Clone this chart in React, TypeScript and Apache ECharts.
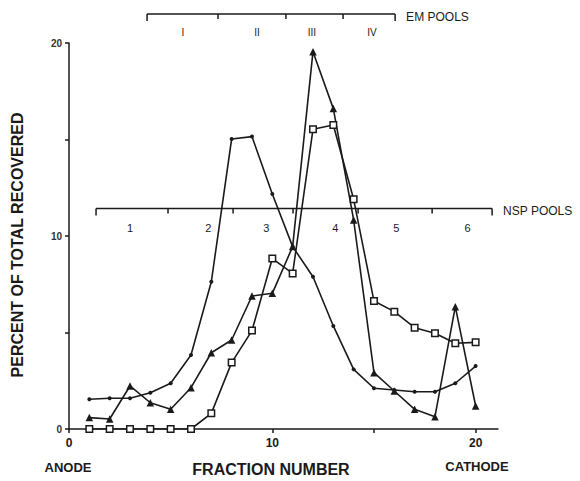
import React, { useEffect, useRef } from "react";
import * as echarts from "echarts";

const fractions = [1, 2, 3, 4, 5, 6, 7, 8, 9, 10, 11, 12, 13, 14, 15, 16, 17, 18, 19, 20];
const dotValues = [1.54, 1.59, 1.59, 1.88, 2.37, 3.83, 7.63, 15.03, 15.15, 12.18, 9.45, 7.89, 5.34, 3.09, 2.11, 2.02, 1.93, 1.93, 2.37, 3.26];
const triangleValues = [0.59, 0.52, 2.23, 1.36, 1.02, 2.14, 3.95, 4.61, 6.89, 7.03, 9.45, 19.55, 16.6, 10.83, 2.92, 1.97, 1.02, 0.64, 6.34, 1.19];
const squareValues = [0, 0, 0, 0, 0, 0, 0.81, 3.44, 5.1, 8.83, 8.06, 15.53, 15.75, 11.9, 6.63, 6.08, 5.25, 4.96, 4.44, 4.49];

const xTickLabels = [0, 10, 20];
const yTickLabels = [0, 10, 20];

const emPoolBounds = [3.84, 7.33, 10.67, 13.48, 16.04];
const emPoolLevel = 21.5;
const emPoolLabels = ["I", "II", "III", "IV"];
const emPoolLabelPos = [5.6, 9.25, 11.95, 14.9];
const emPoolLabelLevel = 20.55;

const nspPoolBounds = [1.33, 4.87, 8.07, 11.02, 14.22, 17.86, 20.81];
const nspPoolLevel = 11.43;
const nspPoolLabels = ["1", "2", "3", "4", "5", "6"];
const nspPoolLabelPos = [3.0, 6.85, 9.7, 13.1, 16.1, 19.6];
const nspPoolLabelLevel = 10.42;

const FONT = '"Liberation Sans", Arial, Helvetica, sans-serif';
const INK = "#1a1a1a";

function bracketRenderer(
  bounds: number[],
  level: number,
  labels: string[],
  labelPos: number[],
  labelLevel: number,
  title: string,
  labelSize: number
) {
  return (params: any, api: any) => {
    const children: any[] = [];
    const a = api.coord([bounds[0], level]);
    const b = api.coord([bounds[bounds.length - 1], level]);
    children.push({
      type: "line",
      shape: { x1: a[0], y1: a[1], x2: b[0], y2: b[1] },
      style: { stroke: INK, lineWidth: 1.5 },
    });
    bounds.forEach((v, i) => {
      const p = api.coord([v, level]);
      const len = i === 0 || i === bounds.length - 1 ? 7 : 5;
      children.push({
        type: "line",
        shape: { x1: p[0], y1: p[1], x2: p[0], y2: p[1] + len },
        style: { stroke: INK, lineWidth: 1.5 },
      });
    });
    labels.forEach((t, i) => {
      const p = api.coord([labelPos[i], labelLevel]);
      children.push({
        type: "text",
        x: p[0],
        y: p[1],
        style: {
          text: t,
          align: "center",
          verticalAlign: "middle",
          fontSize: labelSize,
          fontFamily: FONT,
          fill: INK,
          textFill: INK,
        },
      });
    });
    children.push({
      type: "text",
      x: b[0] + 11,
      y: b[1] + 3,
      style: {
        text: title,
        align: "left",
        verticalAlign: "middle",
        fontSize: 12,
        fontFamily: FONT,
        fill: INK,
        textFill: INK,
      },
    });
    return { type: "group", children };
  };
}

export default function App() {
  const ref = useRef<HTMLDivElement>(null);

  useEffect(() => {
    if (!ref.current) return;
    const chart = echarts.init(ref.current, null, { renderer: "svg" });
    const lineStyle = { color: INK, width: 1.6 };
    chart.setOption({
      animation: false,
      backgroundColor: "#ffffff",
      color: [INK, INK, INK, INK, INK],
      grid: { left: 69, top: 43, right: 82, bottom: 52, containLabel: false },
      xAxis: {
        type: "value",
        min: 0,
        max: 21.1,
        interval: 5,
        axisLine: { show: true, onZero: false, lineStyle: { color: INK, width: 1.5 } },
        axisTick: { show: true, inside: false, length: 4, lineStyle: { color: INK, width: 1.5 } },
        axisLabel: {
          showMaxLabel: false,
          formatter: (v: number) => (xTickLabels.includes(v) ? String(v) : ""),
          color: INK,
          fontSize: 12,
          fontWeight: "bold",
          fontFamily: FONT,
          margin: 8,
        },
        splitLine: { show: false },
      },
      yAxis: {
        type: "value",
        min: 0,
        max: 20,
        interval: 5,
        axisLine: { show: true, onZero: false, lineStyle: { color: INK, width: 1.5 } },
        axisTick: { show: true, inside: false, length: 4, lineStyle: { color: INK, width: 1.5 } },
        axisLabel: {
          formatter: (v: number) => (yTickLabels.includes(v) ? String(v) : ""),
          color: "#333",
          fontSize: 10,
          fontWeight: "bold",
          fontFamily: FONT,
          margin: 7,
        },
        splitLine: { show: false },
      },
      series: [
        {
          type: "line",
          data: fractions.map((f, i) => [f, dotValues[i]]),
          symbol: "circle",
          symbolSize: 4,
          showAllSymbol: true,
          lineStyle,
          itemStyle: { color: INK },
          z: 2,
        },
        {
          type: "line",
          data: fractions.map((f, i) => [f, triangleValues[i]]),
          symbol: "triangle",
          symbolSize: 7.5,
          showAllSymbol: true,
          lineStyle,
          itemStyle: { color: INK },
          z: 3,
        },
        {
          type: "line",
          data: fractions.map((f, i) => [f, squareValues[i]]),
          symbol: "rect",
          symbolSize: 6.5,
          showAllSymbol: true,
          lineStyle,
          itemStyle: { color: "#ffffff", borderColor: INK, borderWidth: 1.5 },
          z: 4,
        },
        {
          type: "custom",
          clip: false,
          silent: true,
          itemStyle: { color: INK },
          data: [[0, 0]],
          renderItem: bracketRenderer(
            emPoolBounds, emPoolLevel, emPoolLabels, emPoolLabelPos, emPoolLabelLevel, "EM POOLS", 10
          ),
          z: 5,
        },
        {
          type: "custom",
          clip: false,
          silent: true,
          itemStyle: { color: INK },
          data: [[0, 0]],
          renderItem: bracketRenderer(
            nspPoolBounds, nspPoolLevel, nspPoolLabels, nspPoolLabelPos, nspPoolLabelLevel, "NSP POOLS", 11
          ),
          z: 5,
        },
      ],
      graphic: [
        {
          type: "text",
          x: 17,
          y: 245,
          rotation: Math.PI / 2,
          style: {
            text: "PERCENT OF TOTAL RECOVERED",
            align: "center",
            verticalAlign: "middle",
            textAlign: "center",
            textVerticalAlign: "middle",
            font: `bold 16px ${FONT}`,
            fill: INK,
          },
        },
        {
          type: "text",
          x: 271,
          y: 469,
          style: {
            text: "FRACTION NUMBER",
            align: "center",
            verticalAlign: "middle",
            textAlign: "center",
            textVerticalAlign: "middle",
            font: `bold 16px ${FONT}`,
            fill: INK,
          },
        },
        {
          type: "text",
          x: 68,
          y: 467,
          style: {
            text: "ANODE",
            align: "center",
            verticalAlign: "middle",
            textAlign: "center",
            textVerticalAlign: "middle",
            font: `bold 13px ${FONT}`,
            fill: INK,
          },
        },
        {
          type: "text",
          x: 477,
          y: 466,
          style: {
            text: "CATHODE",
            align: "center",
            verticalAlign: "middle",
            textAlign: "center",
            textVerticalAlign: "middle",
            font: `bold 13px ${FONT}`,
            fill: INK,
          },
        },
      ],
    });
    return () => chart.dispose();
  }, []);

  return (
    <div
      ref={ref}
      style={{ position: "fixed", left: 0, top: 0, width: 580, height: 481, background: "#fff" }}
    />
  );
}
